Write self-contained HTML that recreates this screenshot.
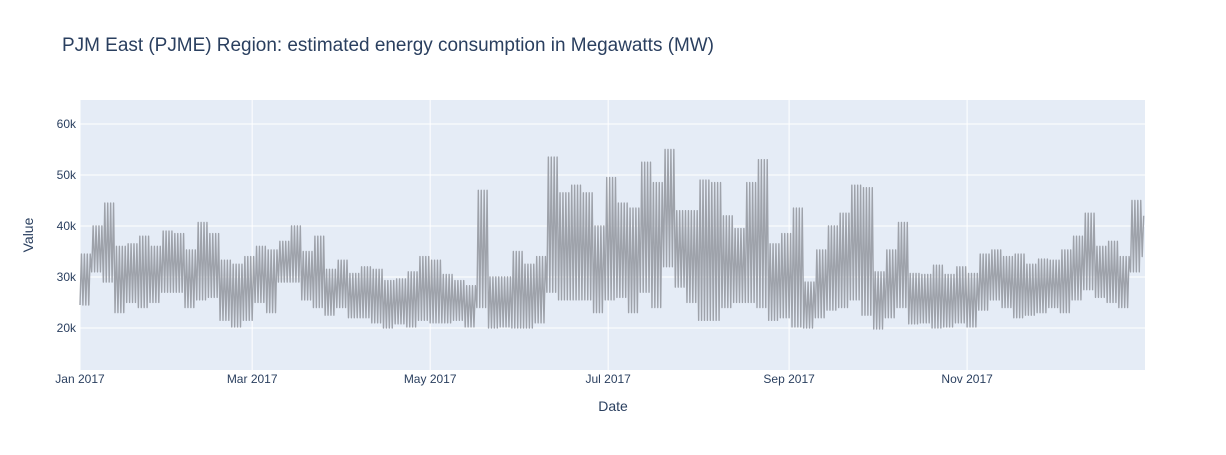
<!DOCTYPE html>
<html><head><meta charset="utf-8"><style>
body{margin:0;background:#fff;font-family:"Liberation Sans",Arial,sans-serif}
svg text{font-family:"Liberation Sans",Arial,sans-serif;fill:#2a3f5f}
</style></head><body>
<svg id="chart" width="1226" height="450" xmlns="http://www.w3.org/2000/svg">
<rect x="80" y="100" width="1065" height="270" fill="#e5ecf6"/>
<g id="grid"></g>
<g id="series"></g>
<g id="axes"></g>
<text x="62" y="51" font-size="19" textLength="652" lengthAdjust="spacingAndGlyphs">PJM East (PJME) Region: estimated energy consumption in Megawatts (MW)</text>
<text x="613" y="411" font-size="14" text-anchor="middle">Date</text>
<text x="33" y="235" font-size="14" text-anchor="middle" transform="rotate(-90 33 235)">Value</text>
</svg>
<script>
// 4-day block peaks and troughs (thousand MW)
const blockHigh=[34.5,40,44.5,36,36.5,38,36,39,38.5,35.3,40.7,38.5,33.3,32.5,34,36,35.3,37,40,35,38,31.5,33.3,30.7,32,31.5,29.3,29.6,31,34,
33.3,30.5,29.3,28.3,47,30,30,35,32.5,34,53.5,46.5,48,46.5,40,49.5,44.5,43.5,52.5,48.5,55,43,43,49,48.5,42,39.5,48.5,53,36.5,
38.5,43.5,29,35.3,40,42.5,48,47.5,31,35.3,40.7,30.7,30.5,32.3,30.5,32,30.7,34.5,35.3,34,34.5,32.5,33.5,33.3,35.3,38,42.5,36,37,34,45,42];
const blockLow=[24.5,31,29,23,25,24,25,27,27,24,25.5,26,21.5,20.2,21.5,25,23,29,29,25.5,24,22.5,24,22,22,21,20,20.8,20.2,21.5,
21,21,21.5,20.2,24,20,20.2,20,20,21,27,25.5,25.5,25.5,23,25.5,26,23,27,24,32,28,25,21.5,21.5,24,25,25,24,21.5,
22,20.2,20,22,23.5,24,25.5,22.5,19.8,22,24,20.8,21,20,20.2,21,20.2,23.5,25.5,24,22,22.5,23,24,23,25.5,27.5,26,25,24,31,34];
const yTicks=[20,30,40,50,60];
const yTickLabels=["20k","30k","40k","50k","60k"];
const xTickDays=[0,59,120,181,243,304];
const xTickLabels=["Jan 2017","Mar 2017","May 2017","Jul 2017","Sep 2017","Nov 2017"];
const BLOCK_DAYS=4, TOTAL_DAYS=364.96;

const X0=80,X1=1145,Y0=370,Y1=100,VMIN=11.76,VMAX=64.7;
const xs=d=>X0+d/TOTAL_DAYS*(X1-X0);
const ys=v=>Y0-(v-VMIN)/(VMAX-VMIN)*(Y0-Y1);
const NS="http://www.w3.org/2000/svg";
const grid=document.getElementById('grid'),axes=document.getElementById('axes'),ser=document.getElementById('series');
function mk(tag,attrs,parent){const e=document.createElementNS(NS,tag);for(const k in attrs)e.setAttribute(k,attrs[k]);parent.appendChild(e);return e;}
yTicks.forEach((v,i)=>{
  const l=mk('line',{x1:X0,x2:X1,y1:ys(v),y2:ys(v),stroke:'#fff','stroke-width':1},grid);
  
  
  const t=mk('text',{x:X0-4,y:ys(v)+4,'font-size':12,'text-anchor':'end'},axes);
  
  
  t.textContent=yTickLabels[i];
});
xTickDays.forEach((d,i)=>{
  const l=mk('line',{x1:xs(d),x2:xs(d),y1:Y1,y2:Y0,stroke:'#fff','stroke-width':1},grid);
  
  
  const t=mk('text',{x:xs(d),y:Y0+13,'font-size':12,'text-anchor':'middle'},axes);
  
  
  t.textContent=xTickLabels[i];
});
let pts=[];
blockHigh.forEach((h,i)=>{
  const lo=blockLow[i];
  for(let k=0;k<BLOCK_DAYS;k++){
    const d=i*BLOCK_DAYS+k;
    if(d>TOTAL_DAYS)break;
    pts.push(xs(d).toFixed(2)+','+ys(lo).toFixed(2));
    pts.push(xs(Math.min(d+0.5,TOTAL_DAYS)).toFixed(2)+','+ys(h).toFixed(2));
  }
});
const p=mk('polyline',{points:pts.join(' '),fill:'none',stroke:'#9ea2aa','stroke-width':1.4,'stroke-linejoin':'round'},ser);


</script>
</body></html>
